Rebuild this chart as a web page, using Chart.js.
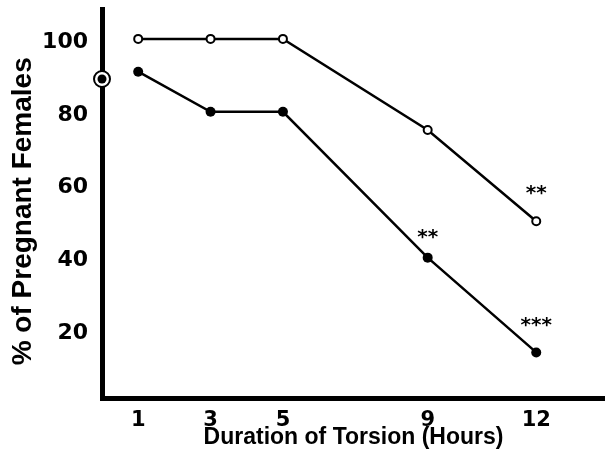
<!DOCTYPE html>
<html><head><meta charset="utf-8">
<script src="https://cdn.jsdelivr.net/npm/chart.js@4"></script>
<style>html,body{margin:0;padding:0;background:#fff;}#wrap{width:605px;height:472px;}</style>
</head><body><div id="wrap"><canvas id="c" width="605" height="472"></canvas></div>
<script>
const hours = [1, 3, 5, 9, 12];
const openSeries = [100, 100, 100, 75, 50];
const filledSeries = [91, 80, 80, 40, 14];
const controlHour = [0];
const controlValue = [89];
const xTickValues = [1, 3, 5, 9, 12];
const yTickValues = [20, 40, 60, 80, 100];
const noteHours = [12, 9, 12];
const noteValues = [58.6, 46.5, 22.4];
const noteTexts = ['**', '**', '***'];

const toPts = (xs, ys) => xs.map((v, i) => ({x: v, y: ys[i]}));

const notesPlugin = {
  id: 'notes',
  afterDatasetsDraw(chart) {
    const {ctx, scales: {x, y}} = chart;
    ctx.save();
    ctx.fillStyle = '#000';
    ctx.font = 'bold 20px "DejaVu Sans"';
    ctx.textAlign = 'center';
    ctx.textBaseline = 'middle';
    noteTexts.forEach((t, i) => {
      ctx.fillText(t, x.getPixelForValue(noteHours[i]), y.getPixelForValue(noteValues[i]) + 4);
    });
    ctx.restore();
  }
};

new Chart(document.getElementById('c'), {
  type: 'line',
  data: {
    datasets: [
      {data: toPts(hours, openSeries), borderColor: '#000', borderWidth: 2.5, pointRadius: 4, pointBorderWidth: 2,
       pointBackgroundColor: '#fff', pointBorderColor: '#000', fill: false, tension: 0, order: 0},
      {data: toPts(hours, filledSeries), borderColor: '#000', borderWidth: 2.5, pointRadius: 5, pointBorderWidth: 0,
       pointBackgroundColor: '#000', pointBorderColor: '#000', fill: false, tension: 0, order: 0},
      {data: toPts(controlHour, controlValue), showLine: false, pointRadius: 8, pointBorderWidth: 2,
       pointBackgroundColor: '#fff', pointBorderColor: '#000', clip: false, order: 2},
      {data: toPts(controlHour, controlValue), showLine: false, pointRadius: 4.5, pointBorderWidth: 0,
       pointBackgroundColor: '#000', pointBorderColor: '#000', clip: false, order: 1}
    ]
  },
  options: {
    responsive: false,
    devicePixelRatio: 1,
    animation: false,
    layout: {autoPadding: false, padding: {top: 9, left: 0, right: 0, bottom: 0}},
    plugins: {legend: {display: false}, tooltip: {enabled: false}},
    scales: {
      x: {
        type: 'linear', min: 0, max: 13.9,
        afterBuildTicks: s => { s.ticks = xTickValues.map(v => ({value: v})); },
        afterFit: s => { s.height = 74; s.paddingLeft = 0; s.paddingRight = 0; },
        grid: {display: false, drawTicks: false},
        border: {display: true, color: '#000', width: 5},
        ticks: {color: '#000', font: {family: 'DejaVu Sans', weight: 'bold', size: 21}, padding: 10,
                maxRotation: 0, autoSkip: false},
        title: {display: true, text: 'Duration of Torsion (Hours)', color: '#000',
                font: {family: 'Liberation Sans', weight: 'bold', size: 23}, padding: {top: 0, bottom: 21}}
      },
      y: {
        type: 'linear', min: 1.5, max: 108.2,
        afterBuildTicks: s => { s.ticks = yTickValues.map(v => ({value: v})); },
        afterFit: s => { s.width = 102; s.paddingTop = 0; s.paddingBottom = 0; },
        grid: {display: false, drawTicks: false},
        border: {display: true, color: '#000', width: 5},
        ticks: {color: '#000', font: {family: 'DejaVu Sans', weight: 'bold', size: 22}, padding: 14,
                labelOffset: 3, autoSkip: false},
        title: {display: true, text: '% of Pregnant Females  ', color: '#000',
                font: {family: 'Liberation Sans', weight: 'bold', size: 28}, padding: {top: 6, bottom: 0}}
      }
    }
  },
  plugins: [notesPlugin]
});
</script></body></html>
